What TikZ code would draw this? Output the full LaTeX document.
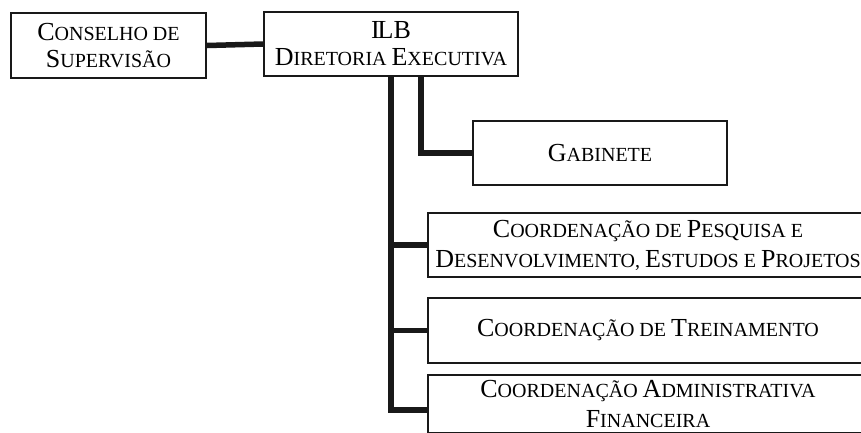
\documentclass[tikz,border=0pt]{standalone}
\usepackage{fontspec}
\setmainfont{Liberation Serif}
\newcommand\Cap[1]{{\fontsize{26}{30}\selectfont #1}}
\newcommand\Sm[1]{{\fontsize{20}{30}\selectfont #1}}
\begin{document}
\begin{tikzpicture}[x=1pt,y=-1pt,
  box/.style={draw=black!90, line width=2pt, fill=white, anchor=north west,
    align=center, inner sep=0pt, font=\fontsize{20}{30}\selectfont},
  conn/.style={draw=black!90, line width=5.5pt, line join=miter}]
\useasboundingbox (0,0) rectangle (861,432);
\clip (0,0) rectangle (861,432);
\node[box, minimum width=195pt, minimum height=65pt] (cons) at (10,12)
  {\Cap{C}\Sm{ONSELHO DE}\\[-3pt]\Cap{S}\Sm{UPERVISÃO}};
\node[box, minimum width=254pt, minimum height=64pt] (ilb) at (263,11)
  {\Cap{I\kern-2pt LB}\\[-3pt]\Cap{D}\Sm{IRETORIA} \Cap{E}\Sm{XECUTIVA}};
\node[box, minimum width=254pt, minimum height=64pt] (gab) at (472,120)
  {\Cap{G}\Sm{ABINETE}};
\node[box, minimum width=440pt, minimum height=64pt] (pd) at (427,212)
  {\Cap{C}\Sm{OORDENAÇÃO DE} \Cap{P}\Sm{ESQUISA E}\\\Cap{D}\Sm{ESENVOLVIMENTO,} \Cap{E}\Sm{STUDOS E} \Cap{P}\Sm{ROJETOS}};
\node[box, minimum width=440pt, minimum height=65pt] (tr) at (427,297)
  {\Cap{C}\Sm{OORDENAÇÃO DE} \Cap{T}\Sm{REINAMENTO}};
\node[box, minimum width=440pt, minimum height=58pt] (adm) at (427,374)
  {\Cap{C}\Sm{OORDENAÇÃO} \Cap{A}\Sm{DMINISTRATIVA}\\\Cap{F}\Sm{INANCEIRA}};
\draw[conn] (cons.east) -- (ilb.west);
\draw[conn] (ilb.south) |- ([yshift=-6pt]adm.west);
\draw[conn] (ilb.south |- pd.west) -- (pd.west);
\draw[conn] (ilb.south |- tr.west) -- (tr.west);
\draw[conn] ([xshift=30pt]ilb.south) |- (gab.west);
\end{tikzpicture}
\end{document}
